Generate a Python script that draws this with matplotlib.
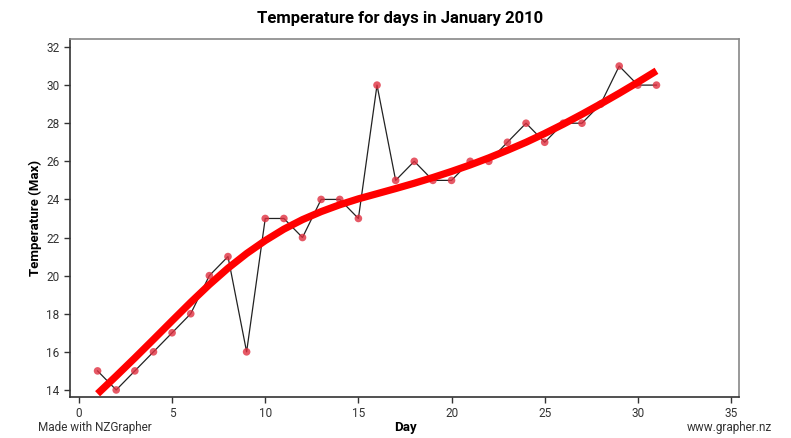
import matplotlib
matplotlib.use("Agg")
import matplotlib.pyplot as plt

plt.rcParams['font.family'] = ['Roboto', 'DejaVu Sans']

# Daily max temperatures, January 2010
days = list(range(1, 32))
temps = [15, 14, 15, 16, 17, 18, 20, 21, 16, 23, 23, 22, 24, 24, 23, 30,
         25, 26, 25, 25, 26, 26, 27, 28, 27, 28, 28, 29, 31, 30, 30]

# Smoothed trend
trend = [13.8, 14.73, 15.68, 16.65, 17.63, 18.6, 19.53, 20.39, 21.16, 21.84,
         22.44, 22.94, 23.36, 23.72, 24.03, 24.3, 24.57, 24.85, 25.15, 25.47,
         25.81, 26.18, 26.58, 27.0, 27.46, 27.95, 28.47, 29.01, 29.57, 30.15, 30.75]

x_ticks = [0, 5, 10, 15, 20, 25, 30, 35]
y_ticks = [14, 16, 18, 20, 22, 24, 26, 28, 30, 32]

fig = plt.figure(figsize=(7.91, 4.38), dpi=100)
ax = fig.add_axes([70 / 791, 1 - 397 / 438, 669 / 791, 358 / 438])

ax.plot(days, temps, color='#222222', linewidth=0.9, zorder=2)
ax.scatter(days, temps, s=30, color='#e03040', alpha=0.8, edgecolors='none', zorder=3)
ax.plot(days, trend, color='#ff0000', linewidth=5.2, solid_capstyle='butt',
        solid_joinstyle='round', zorder=4)

ax.set_xlim(-0.48, 35.43)
ax.set_ylim(13.63, 32.42)
ax.set_xticks(x_ticks)
ax.set_yticks(y_ticks)
ax.tick_params(labelsize=8.5, colors='#333333', length=4, width=1)

for side in ['top', 'right']:
    ax.spines[side].set_color('#888888')
    ax.spines[side].set_linewidth(1.2)
for side in ['left', 'bottom']:
    ax.spines[side].set_color('#333333')
    ax.spines[side].set_linewidth(1.2)

fig.text(35 / 791, 1 - 218 / 438, 'Temperature (Max)', fontsize=9.5, fontweight='bold',
         rotation=90, ha='center', va='center')
fig.text(405 / 791, 1 - 427 / 438, 'Day', fontsize=9.5, fontweight='bold', ha='center', va='center')
fig.text(400 / 791, 1 - 18 / 438, 'Temperature for days in January 2010',
         fontsize=12, fontweight='bold', ha='center', va='center')
fig.text(38 / 791, 1 - 427 / 438, 'Made with NZGrapher', fontsize=8.5, color='#333333',
         ha='left', va='center')
fig.text(772 / 791, 1 - 427 / 438, 'www.grapher.nz', fontsize=8.5, color='#333333',
         ha='right', va='center')

fig.savefig('out.png', dpi=100)
